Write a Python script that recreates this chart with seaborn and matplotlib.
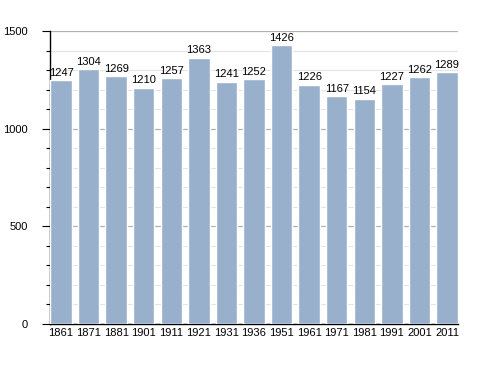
import matplotlib
matplotlib.use("Agg")
import matplotlib.pyplot as plt
import seaborn as sns
import pandas as pd
from matplotlib.ticker import MultipleLocator

# ---------------- DATA ----------------
years = ["1861", "1871", "1881", "1901", "1911", "1921", "1931", "1936",
         "1951", "1961", "1971", "1981", "1991", "2001", "2011"]
population = [1247, 1304, 1269, 1210, 1257, 1363, 1241, 1252,
              1426, 1226, 1167, 1154, 1227, 1262, 1289]

df = pd.DataFrame({"year": years, "pop": population})

sns.set_style("white")
plt.rcParams["font.family"] = ["Liberation Sans", "DejaVu Sans"]
plt.rcParams["text.color"] = "black"
plt.rcParams["xtick.color"] = "black"
plt.rcParams["ytick.color"] = "black"

fig = plt.figure(figsize=(4.88, 3.73), dpi=100)
ax = fig.add_axes([0.1025, 0.1314, 0.836, 0.7855])

sns.barplot(data=df, x="year", y="pop", color="#98b0cc", saturation=1,
            width=0.78, ax=ax, zorder=3)

ax.set_ylim(0, 1500)
ax.set_xlim(-0.4, len(years) - 0.6)
ax.yaxis.set_major_locator(MultipleLocator(500))
ax.yaxis.set_minor_locator(MultipleLocator(100))
ax.grid(axis="y", which="major", color="#b0b0b0", linewidth=0.9, zorder=0)
ax.grid(axis="y", which="minor", color="#e4e4e4", linewidth=0.8, zorder=0)
ax.set_axisbelow(True)

for s in ["top", "right"]:
    ax.spines[s].set_visible(False)
for s in ["left", "bottom"]:
    ax.spines[s].set_color("black")
    ax.spines[s].set_linewidth(1.0)

ax.tick_params(axis="y", which="major", length=6, width=0.8, direction="out",
               labelsize=8, left=True, pad=10)
ax.tick_params(axis="y", which="minor", length=3, width=0.8, direction="out", left=True)
ax.tick_params(axis="x", length=0, labelsize=8, pad=3)
ax.set_xlabel("")
ax.set_ylabel("")

for i, v in enumerate(population):
    ax.text(i, v + 12, str(v), ha="center", va="bottom", fontsize=8,
            color="black", zorder=4)

plt.savefig("out.png", dpi=100)
